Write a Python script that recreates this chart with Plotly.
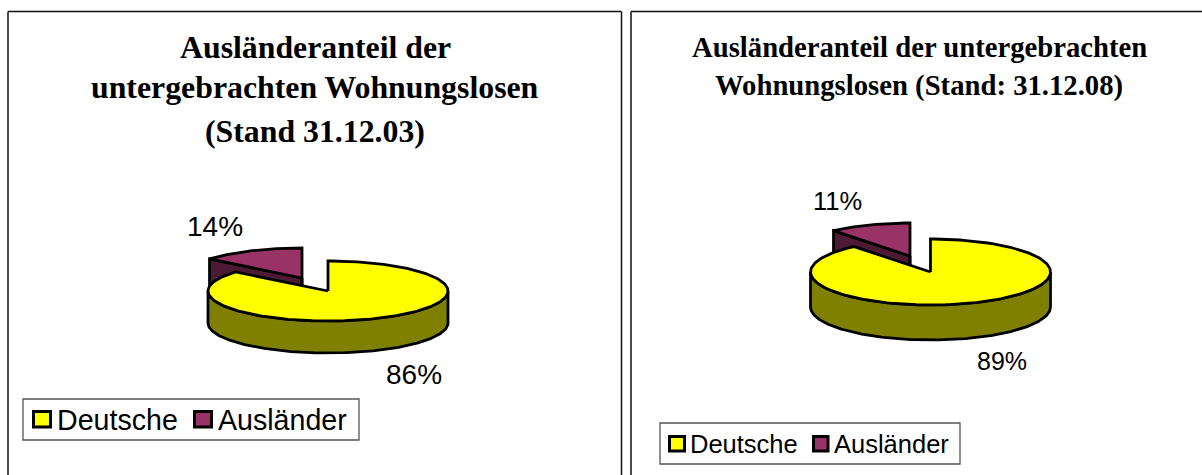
import numpy as np
import plotly.graph_objects as go

categories = ["Deutsche", "Ausländer"]
shares_2003 = [86, 14]
shares_2008 = [89, 11]
labels_2003 = ["86%", "14%"]
labels_2008 = ["89%", "11%"]
title_2003 = ["Ausländeranteil der", "untergebrachten Wohnungslosen", "(Stand 31.12.03)"]
title_2008 = ["Ausländeranteil der untergebrachten", "Wohnungslosen (Stand: 31.12.08)"]

YELLOW, OLIVE = "#ffff00", "#808000"
PLUM, PLUM_DARK = "#993366", "#4d1a33"
LW = 2.8

fig = go.Figure()


def arc(cx, cy, rx, ry, a0, a1):
    t = np.radians(np.linspace(a0, a1, 181))
    return cx + rx * np.sin(t), cy - ry * np.cos(t)


def poly(x, y, color, lw=LW, name=None):
    fig.add_trace(go.Scatter(x=list(x), y=list(y), mode="lines", fill="toself", fillcolor=color,
                             line=dict(color="black", width=lw), showlegend=False, hoverinfo="skip", name=name))


def pie3d(shares, cx, cy, rx, ry, depth, ox, oy):
    """Exploded tilted pie: first slice starts at 12 o'clock, second slice pulled out."""
    split = 360 * shares[0] / sum(shares)
    px, py = cx + ox, cy + oy
    ex, ey = arc(px, py, rx, ry, split, 360)
    poly([px, ex[0], ex[0], px, px], [py, ey[0], ey[0] + depth, py + depth, py], PLUM_DARK, name=categories[1])
    poly([px, px, px], [py, py + depth, py], PLUM_DARK, name=categories[1])
    poly(np.r_[px, ex, px], np.r_[py, ey, py], PLUM, name=categories[1])
    ax, ay = arc(cx, cy, rx, ry, 90, min(split, 270))
    poly(np.r_[ax, ax[::-1], ax[0]], np.r_[ay, ay[::-1] + depth, ay[0]], OLIVE, name=categories[0])
    tx, ty = arc(cx, cy, rx, ry, 0, split)
    poly(np.r_[cx, tx, cx], np.r_[cy, ty, cy], YELLOW, name=categories[0])


pie3d(shares_2003, 328, 291, 120, 30, 32, -26, -13)
pie3d(shares_2008, 930.5, 272, 120, 33, 35, -20.5, -16)

annots = []
def text(x, y, s, size, family="Liberation Sans", bold=False, anchor="center"):
    annots.append(dict(x=x, y=y, xref="x", yref="y", text=f"<b>{s}</b>" if bold else s, showarrow=False,
                       xanchor=anchor, yanchor="middle", xshift=0, borderpad=0, borderwidth=0,
                       font=dict(family=family, size=size, color="black")))

for y, s in zip([47, 87, 131], title_2003):
    text(315, y, s, 31.8, "Liberation Serif", True)
for y, s in zip([47, 85], title_2008):
    text(919, y, s, 28.7, "Liberation Serif", True)
text(414, 374, labels_2003[0], 28)
text(215, 226, labels_2003[1], 28)
text(1002, 361, labels_2008[0], 25)
text(837, 201, labels_2008[1], 25.5)

shapes = []
for x0, y0, x1, y1 in [(8, 11.5, 8, 475), (8, 11.5, 621.5, 11.5), (621.5, 11.5, 621.5, 475),
                       (631, 11.5, 631, 475), (631, 11.5, 1202, 11.5)]:
    shapes.append(dict(type="line", x0=x0, y0=y0, x1=x1, y1=y1, xref="x", yref="y",
                       line=dict(color="#111111", width=1.5), layer="below"))


def legend(box, swatches, text_x, text_y, size):
    shapes.append(dict(type="rect", x0=box[0], y0=box[1], x1=box[2], y1=box[3], xref="x", yref="y",
                       fillcolor="white", line=dict(color="#555555", width=1.3)))
    for (x0, y0, x1, y1), color in zip(swatches, [YELLOW, PLUM]):
        shapes.append(dict(type="rect", x0=x0, y0=y0, x1=x1, y1=y1, xref="x", yref="y",
                           fillcolor=color, line=dict(color="black", width=3)))
    for x, s in zip(text_x, categories):
        text(x, text_y, s, size, anchor="left")


legend((23, 399, 359, 440), [(33.5, 411.5, 50.5, 427), (194.5, 411.5, 211.5, 427)], (57, 217.5), 419.5, 28.6)
legend((660, 423, 960, 464), [(669.5, 436.5, 684.5, 451), (813.5, 436.5, 828, 451)], (690, 833.5), 443.5, 25.5)

W, H = 1202, 475
fig.update_layout(
    width=W, height=H, margin=dict(l=0, r=0, t=0, b=0), paper_bgcolor="white", plot_bgcolor="white",
    xaxis=dict(range=[0, W], visible=False, fixedrange=True),
    yaxis=dict(range=[H, 0], visible=False, fixedrange=True),
    annotations=annots, shapes=shapes, hovermode=False, showlegend=False,
)
fig.write_html("out.html", config=dict(displayModeBar=False),
               post_script="document.body.style.margin='0';document.documentElement.style.overflow='hidden';")
